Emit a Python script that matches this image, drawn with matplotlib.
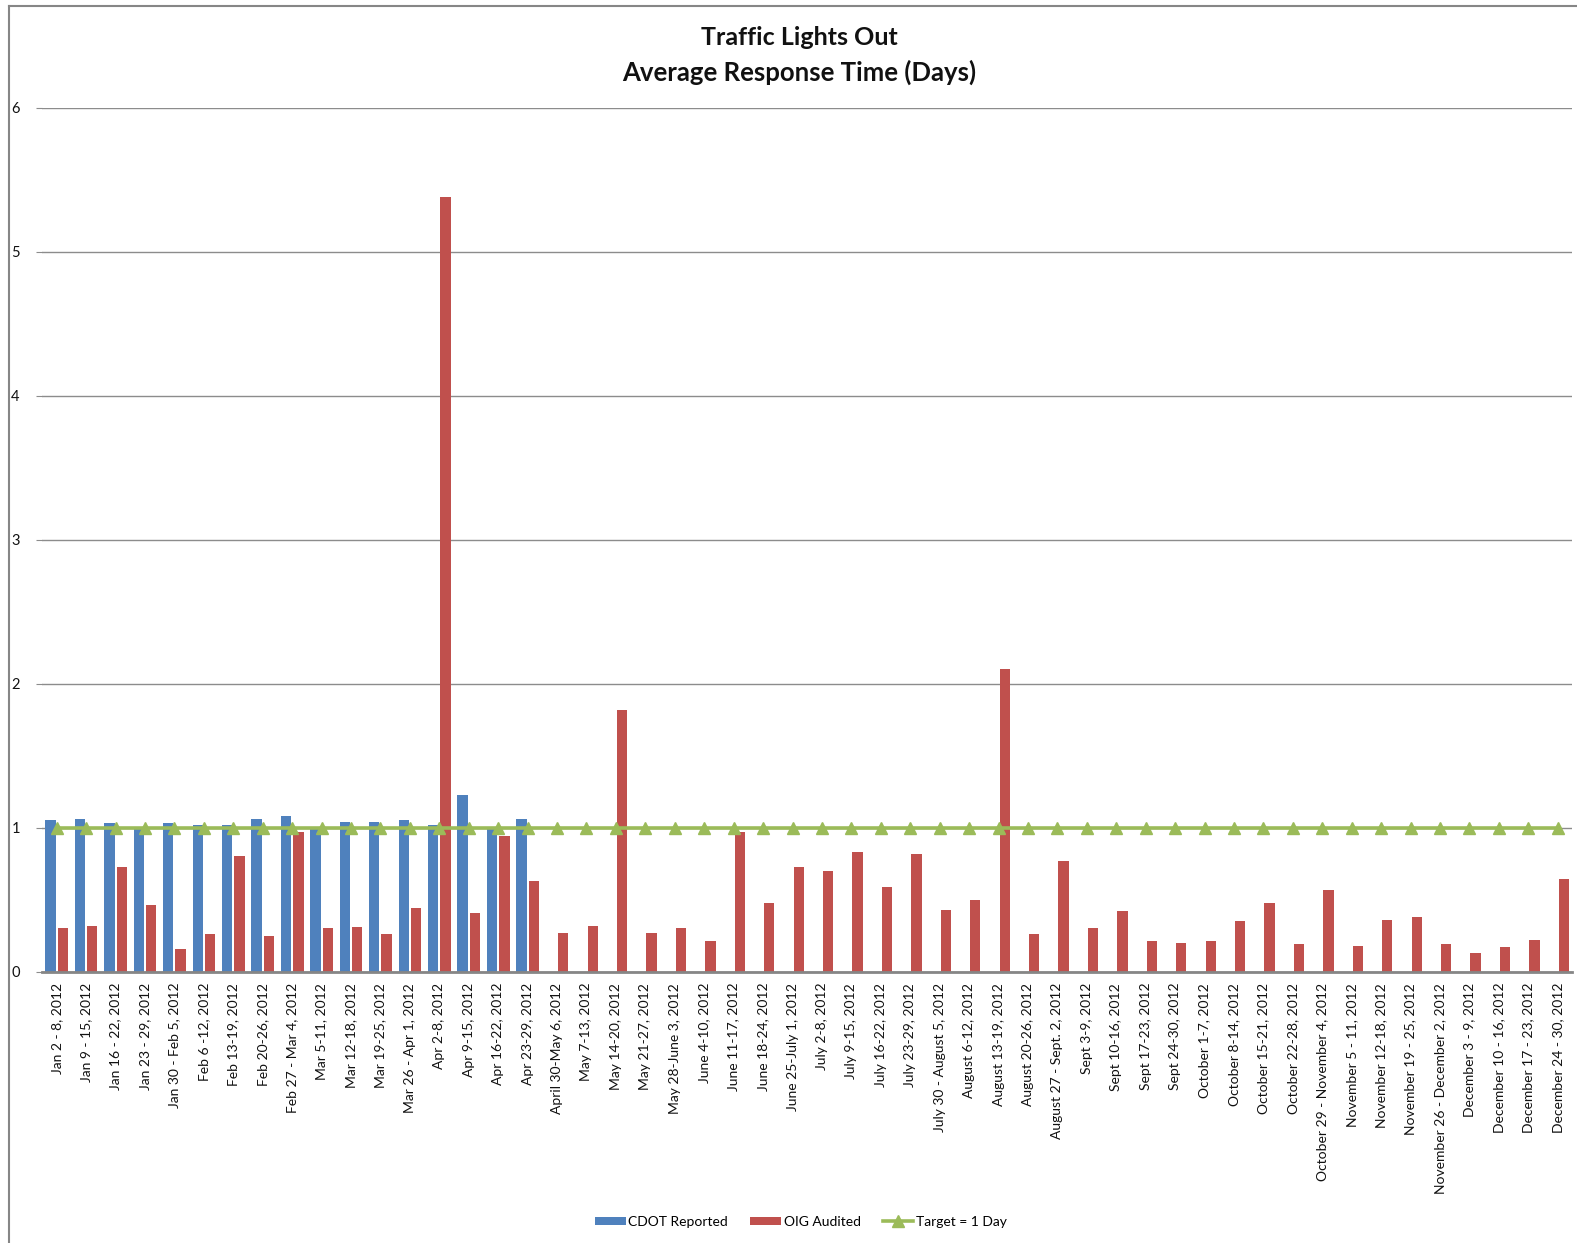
import matplotlib
matplotlib.use('Agg')
import matplotlib.pyplot as plt
import numpy as np
from matplotlib.lines import Line2D

# ── Data ──
weeks = [
    "Jan 2 - 8, 2012", "Jan 9 - 15, 2012", "Jan 16 - 22, 2012", "Jan 23 - 29, 2012",
    "Jan 30 - Feb 5, 2012", "Feb 6 -12, 2012", "Feb 13-19, 2012", "Feb 20-26, 2012",
    "Feb 27 - Mar 4, 2012", "Mar 5-11, 2012", "Mar 12-18, 2012", "Mar 19-25, 2012",
    "Mar 26 - Apr 1, 2012", "Apr 2-8, 2012", "Apr 9-15, 2012", "Apr 16-22, 2012",
    "Apr 23-29, 2012", "April 30-May 6, 2012", "May 7-13, 2012", "May 14-20, 2012",
    "May 21-27, 2012", "May 28-June 3, 2012", "June 4-10, 2012", "June 11-17, 2012",
    "June 18-24, 2012", "June 25-July 1, 2012", "July 2-8, 2012", "July 9-15, 2012",
    "July 16-22, 2012", "July 23-29, 2012", "July 30 - August 5, 2012", "August 6-12, 2012",
    "August 13-19, 2012", "August 20-26, 2012", "August 27 - Sept. 2, 2012", "Sept 3-9, 2012",
    "Sept 10-16, 2012", "Sept 17-23, 2012", "Sept 24-30, 2012", "October 1-7, 2012",
    "October 8-14, 2012", "October 15-21, 2012", "October 22-28, 2012",
    "October 29 - November 4, 2012", "November 5 - 11, 2012", "November 12-18, 2012",
    "November 19 - 25, 2012", "November 26 - December 2, 2012", "December 3 - 9, 2012",
    "December 10 - 16, 2012", "December 17 - 23, 2012", "December 24 - 30, 2012",
]

cdot_reported = [1.05, 1.06, 1.03, 0.99, 1.03, 1.02, 1.02, 1.06, 1.08, 0.99,
                 1.04, 1.04, 1.05, 1.02, 1.23, 0.99, 1.06]

oig_audited = [0.30, 0.32, 0.73, 0.46, 0.16, 0.26, 0.80, 0.25, 0.97, 0.30,
               0.31, 0.26, 0.44, 5.38, 0.41, 0.94, 0.63,
               0.27, 0.32, 1.82, 0.27, 0.30, 0.21, 0.97, 0.48, 0.73,
               0.70, 0.83, 0.59, 0.82, 0.43, 0.50, 2.10, 0.26,
               0.77, 0.30, 0.42, 0.21, 0.20, 0.21, 0.35, 0.48, 0.19,
               0.57, 0.18, 0.36, 0.38, 0.19, 0.13, 0.17, 0.22, 0.64]

target = [1.0] * len(weeks)

# ── Style ──
BLUE = '#4F81BD'
RED = '#C0504D'
GREEN = '#9BBB59'
GRID = '#8C8C8C'
FONT = 'Lato'

plt.rcParams['font.family'] = [FONT, 'DejaVu Sans']

fig = plt.figure(figsize=(15.77, 12.43), dpi=100)
ax = fig.add_axes([0.02663, 0.2183, 0.9705, 0.6951])

x = np.arange(len(weeks))
w = 0.35
b1 = ax.bar(x[:len(cdot_reported)] - 0.21, cdot_reported, width=w, color=BLUE,
            label='CDOT Reported', zorder=2)
b2 = ax.bar(x + 0.21, oig_audited, width=w, color=RED, label='OIG Audited', zorder=2)
ln, = ax.plot(x, target, color=GREEN, linewidth=2.6, marker='^', markersize=9,
              markeredgecolor=GREEN, label='Target = 1 Day', zorder=3)

ax.set_xlim(-0.5, len(weeks) - 0.5)
ax.set_ylim(0, 6)
ax.set_yticks(range(0, 7))
ax.yaxis.grid(True, color=GRID, linewidth=1.0, zorder=0)
ax.set_axisbelow(True)

for s in ['top', 'right', 'left']:
    ax.spines[s].set_visible(False)
ax.spines['bottom'].set_color('#868686')
ax.spines['bottom'].set_linewidth(2.0)

ax.set_xticks(x)
ax.set_xticklabels(weeks, rotation=90, fontsize=10, color='#111111')
ax.tick_params(axis='x', length=0, pad=8)
ax.tick_params(axis='y', length=4, color=GRID, labelsize=10.5, pad=12, labelcolor='#111111')

fig.text(0.507, 0.970, 'Traffic Lights Out', ha='center', va='center',
         fontsize=18, fontweight='bold', color='#111111')
fig.text(0.507, 0.942, 'Average Response Time (Days)', ha='center', va='center',
         fontsize=18.5, fontweight='bold', color='#111111')

fig.legend([b1, b2, ln], ['CDOT Reported', 'OIG Audited', 'Target = 1 Day'],
           loc='center', bbox_to_anchor=(0.508, 0.017), ncol=3, frameon=False,
           fontsize=10, handlelength=2.2, handleheight=0.6, handletextpad=0.2,
           columnspacing=1.6)

# chart frame (top and left edges)
fig.add_artist(Line2D([9 / 1577, 1.0], [1 - 6 / 1243, 1 - 6 / 1243],
                      transform=fig.transFigure, color='#868686', linewidth=1.5))
fig.add_artist(Line2D([9 / 1577, 9 / 1577], [0.0, 1 - 6 / 1243],
                      transform=fig.transFigure, color='#868686', linewidth=1.5))

fig.savefig('out.png', dpi=100, facecolor='white')
